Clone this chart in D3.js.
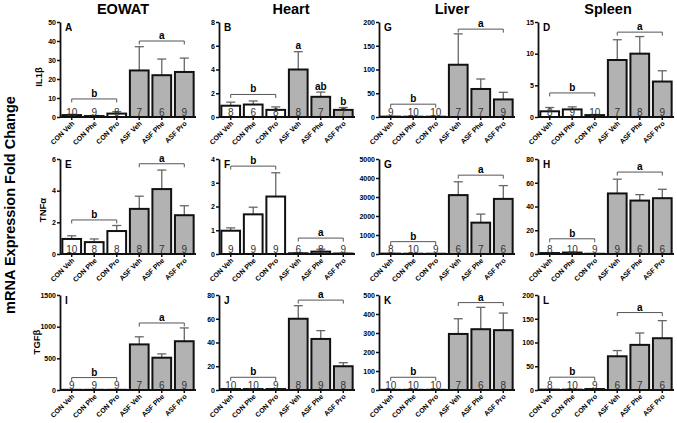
<!DOCTYPE html>
<html><head><meta charset="utf-8">
<script src="https://cdn.jsdelivr.net/npm/d3@7"></script>
<style>body{margin:0;background:#fff}svg{display:block;font-family:"Liberation Sans",Arial,sans-serif}</style>
</head><body><svg id="c" width="677" height="423"></svg>
<script>
const groups = ["CON Veh","CON Phe","CON Pro","ASF Veh","ASF Phe","ASF Pro"];
const tissues = ["EOWAT","Heart","Liver","Spleen"];
const genes = ["IL1β","TNFα","TGFβ"];
const panelLetters = [["A","B","G","D"],["E","F","G","H"],["I","J","K","L"]];
const yMax  = [[50,8,200,15],[6,4,5000,80],[1500,80,500,200]];
const yStep = [[10,2,50,5],[2,1,1000,20],[500,20,100,50]];

// means per tissue (EOWAT, Heart, Liver, Spleen)
const meanIL1b = [[1.0,0.5,1.8,24.5,22,23.7],[0.95,1.05,0.6,4.0,1.7,0.6],[0.8,0.6,0.6,110,59,37],[0.9,1.2,0.3,9.0,10.0,5.6]];
const errIL1b  = [[0.4,0.3,1.0,12.5,8.5,7.3],[0.3,0.3,0.25,1.5,0.4,0.2],[0.3,0.2,0.2,65,21,15],[0.6,0.4,0.1,3.2,2.7,1.7]];
const nIL1b    = [[10,9,8,7,6,9],[8,6,8,8,7,7],[9,10,10,7,7,9],[8,9,10,7,8,9]];
const meanTNFa = [[0.95,0.75,1.45,2.85,4.1,2.45],[0.98,1.67,2.42,0.03,0.1,0.02],[20,15,15,3100,1650,2900],[0.8,1.2,0.2,51,45,47]];
const errTNFa  = [[0.2,0.2,0.35,0.8,1.2,0.6],[0.12,0.3,1.0,0.02,0.1,0.01],[5,5,5,700,450,700],[0.3,0.4,0.1,12,5,7.5]];
const nTNFa    = [[10,8,8,8,7,9],[9,9,9,6,8,9],[8,10,9,6,7,6],[8,10,9,9,6,6]];
const meanTGFb = [[3,3,3,720,510,770],[0.8,0.8,0.8,60,43,20],[1,1,1,295,320,315],[0.8,0.8,2,71,95,109]];
const errTGFb  = [[1,1,1,120,60,210],[0.3,0.3,0.3,11,7,3],[0.5,0.5,0.5,80,115,90],[0.3,0.3,0.5,12,25,37]];
const nTGFb    = [[9,9,9,7,6,9],[10,10,9,8,9,8],[10,10,10,7,6,8],[8,10,9,6,7,6]];

// significance brackets: [CON bracket level, ASF bracket level] (null = per-bar letters)
const conBracket = [[9.5,1.9,27,3.8],[2.15,3.7,650,12.8],[196,10.7,67,27]];
const asfBracket = [[40,null,185,13.4],[5.7,0.67,4150,69],[1058,75.7,460,163]];
const conLetter  = [["b","b","b","b"],["b","b","b","b"],["b","b","b","b"]];
const asfLetter  = [["a","a","a","a"],["a","a","a","a"],["a","a","a","a"]];
// per-bar letters for Heart IL1β ASF groups: [group, letter, level]
const heartIL1bLetters = [["ASF Veh","a",5.75],["ASF Phe","ab",2.3],["ASF Pro","b",1.05]];

const means = [meanIL1b, meanTNFa, meanTGFb];
const errs  = [errIL1b, errTNFa, errTGFb];
const ns    = [nIL1b, nTNFa, nTGFb];

const svg = d3.select("#c");
const colX = [60, 219, 379, 538];
const rowTop = [22, 159, 295];
const W = 136, H = 95;

// titles
const titleX = [123, 291, 452, 608];
tissues.forEach((t,i)=>{
  svg.append("text").attr("x", titleX[i]).attr("y", 14)
    .attr("text-anchor","middle").attr("font-weight","bold").attr("font-size",14.5).text(t);
});
svg.append("text").attr("transform","translate(15,205) rotate(-90)")
  .attr("text-anchor","middle").attr("font-weight","bold").attr("font-size",14.5)
  .text("mRNA Expression Fold Change");
const geneY = [77, 210, 342], geneX = [42, 46, 40];
genes.forEach((g,i)=>{
  svg.append("text").attr("transform",`translate(${geneX[i]},${geneY[i]}) rotate(-90)`)
    .attr("text-anchor","middle").attr("font-weight","bold").attr("font-size",9.5).text(g);
});

for (let r=0;r<3;r++) for (let c=0;c<4;c++){
  const x0 = colX[c], y0 = rowTop[r];
  const base = y0+H;
  const x = d3.scaleBand().domain(groups).range([x0, x0+W]).paddingInner(0.08).paddingOuter(0.06);
  const y = d3.scaleLinear().domain([0, yMax[r][c]]).range([base, y0]);
  const g = svg.append("g");
  const m = means[r][c], e = errs[r][c], n = ns[r][c];
  const data = groups.map((k,i)=>({k, m:m[i], e:e[i], n:n[i], asf:i>=3}));

  // error bars
  const eg = g.append("g").attr("stroke","#666").attr("stroke-width",1.3);
  data.forEach(d=>{
    const cx = x(d.k)+x.bandwidth()/2;
    eg.append("line").attr("x1",cx).attr("x2",cx).attr("y1",y(d.m)).attr("y2",y(d.m+d.e));
    eg.append("line").attr("x1",cx-4.5).attr("x2",cx+4.5).attr("y1",y(d.m+d.e)).attr("y2",y(d.m+d.e));
  });
  // bars
  g.selectAll("rect.bar").data(data).join("rect")
    .attr("x",d=>x(d.k)+1).attr("width",x.bandwidth()-2)
    .attr("y",d=>y(d.m)).attr("height",d=>base-y(d.m))
    .attr("fill",d=>d.asf?"#b2b2b2":"#fff").attr("stroke","#111").attr("stroke-width",2);

  // n labels
  g.selectAll("text.n").data(data).join("text")
    .attr("x",d=>x(d.k)+x.bandwidth()/2).attr("y",base-1.5)
    .attr("text-anchor","middle").attr("font-size",10).attr("fill","#333").text(d=>d.n);

  // y axis
  const ticks = d3.range(0, yMax[r][c]+1e-9, yStep[r][c]);
  const ya = g.append("g").attr("transform",`translate(${x0},0)`)
    .call(d3.axisLeft(y).tickValues(ticks).tickSize(3).tickSizeOuter(0).tickFormat(d3.format("d")));
  ya.select(".domain").attr("stroke","#111").attr("stroke-width",1.8);
  ya.selectAll(".tick line").attr("stroke","#111").attr("stroke-width",1.5);
  ya.selectAll(".tick text").attr("font-size",7).attr("font-weight","bold").attr("x",-4).attr("font-family","Liberation Sans, Arial");

  // x axis
  g.append("line").attr("x1",x0).attr("x2",x0+W).attr("y1",base).attr("y2",base).attr("stroke","#111").attr("stroke-width",1.8);
  data.forEach(d=>{
    const cx = x(d.k)+x.bandwidth()/2;
    g.append("line").attr("x1",cx).attr("x2",cx).attr("y1",base).attr("y2",base+3).attr("stroke","#111").attr("stroke-width",1.5);
    g.append("text").attr("transform",`translate(${cx+3},${base+7}) rotate(-45)`)
      .attr("text-anchor","end").attr("font-size",7).attr("font-weight","bold").text(d.k);
  });

  // panel letter
  g.append("text").attr("x",x0+5).attr("y",y0+9).attr("font-size",10).attr("font-weight","bold").text(panelLetters[r][c]);

  // brackets
  const bracket = (i0,i1,level,letter)=>{
    const xa = x(groups[i0])+x.bandwidth()/2, xb = x(groups[i1])+x.bandwidth()/2, yy = y(level);
    g.append("path").attr("d",`M${xa},${yy+3.5}V${yy}H${xb}V${yy+3.5}`).attr("fill","none").attr("stroke","#555").attr("stroke-width",1);
    g.append("text").attr("x",(xa+xb)/2).attr("y",yy-2).attr("text-anchor","middle").attr("font-size",10).attr("font-weight","bold").text(letter);
  };
  bracket(0,2,conBracket[r][c],conLetter[r][c]);
  if (asfBracket[r][c]!==null) bracket(3,5,asfBracket[r][c],asfLetter[r][c]);
  else heartIL1bLetters.forEach(([k,l,lv])=>{
    g.append("text").attr("x",x(k)+x.bandwidth()/2).attr("y",y(lv)).attr("text-anchor","middle").attr("font-size",10).attr("font-weight","bold").text(l);
  });
}
</script></body></html>
